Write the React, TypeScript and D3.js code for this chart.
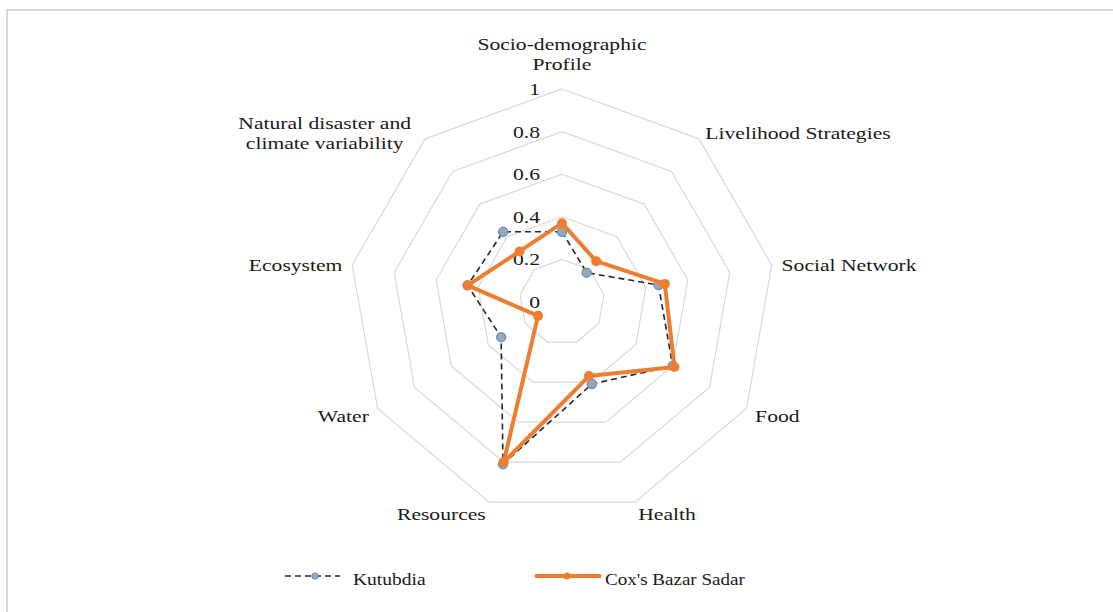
import * as d3 from 'd3';

const categories = [
  ['Socio-demographic', 'Profile'],
  ['Livelihood Strategies'],
  ['Social Network'],
  ['Food'],
  ['Health'],
  ['Resources'],
  ['Water'],
  ['Ecosystem'],
  ['Natural disaster and', 'climate variability'],
];
const kutubdia = [0.33, 0.18, 0.46, 0.6, 0.41, 0.81, 0.33, 0.45, 0.43];
const coxsBazar = [0.37, 0.25, 0.49, 0.61, 0.37, 0.8, 0.13, 0.45, 0.31];
const ticks = [0, 0.2, 0.4, 0.6, 0.8, 1];
const ticklabels = ['0', '0.2', '0.4', '0.6', '0.8', '1'];

const W = 1113;
const H = 612;
const cx = 562;
const cy = 302;
const R = 213;
const FONT = '"Liberation Serif", "Times New Roman", serif';
const SX = 1.35; // text in the picture is horizontally stretched

const App = () => {
  const r = d3.scaleLinear().domain([0, 1]).range([0, R]);
  const n = categories.length;
  const angle = (i: number) => (i * 2 * Math.PI) / n;

  const radar = d3
    .lineRadial<number>()
    .angle((_, i) => angle(i))
    .radius((d) => r(d))
    .curve(d3.curveLinearClosed);

  const rings = ticks.filter((t) => t > 0);

  // label positions from the axis angle
  const labels = categories.map((lines, i) => {
    const a = angle(i);
    const s = Math.sin(a);
    const c = Math.cos(a);
    const x = cx + (R + 10) * s;
    const y = cy - (R + 10) * c;
    const anchor = Math.abs(s) < 0.01 ? 'middle' : s > 0 ? 'start' : 'end';
    const lh = 20;
    const blockH = lines.length * lh;
    let top = y + 3 - blockH / 2;
    if (Math.abs(s) < 0.01 && c > 0) top = y - 4 - blockH;
    return { lines, x, top, anchor, lh };
  });

  return (
    <svg
      width={W}
      height={H}
      style={{ position: 'absolute', left: 0, top: 0, display: 'block', background: '#fff' }}
    >
      <rect x={7} y={10} width={1110} height={620} fill="#fff" stroke="#d9d9d9" strokeWidth={2} />

      <g transform={`translate(${cx},${cy})`}>
        {rings.map((t) => (
          <path
            key={t}
            d={radar(categories.map(() => t)) || ''}
            fill="none"
            stroke="#d9d9d9"
            strokeWidth={1.2}
          />
        ))}
      </g>

      {ticks.map((t, i) => (
        <text
          key={t}
          transform={`translate(${cx - 22},${cy - r(t) + 6}) scale(${SX},1)`}
          textAnchor="end"
          fontFamily={FONT}
          fontSize={16}
          fill="#1a1a1a"
        >
          {ticklabels[i]}
        </text>
      ))}

      {labels.map((l, i) => (
        <g key={i}>
          {l.lines.map((line, j) => (
            <text
              key={j}
              transform={`translate(${l.anchor === 'end' && l.lines.length > 1 ? l.x - 94 : l.x},${l.top + (j + 1) * l.lh - 5}) scale(${SX},1)`}
              textAnchor={l.lines.length > 1 ? 'middle' : l.anchor}
              fontFamily={FONT}
              fontSize={16}
              fill="#1a1a1a"
            >
              {line}
            </text>
          ))}
        </g>
      ))}

      <g transform={`translate(${cx},${cy})`}>
        <path
          d={radar(kutubdia) || ''}
          fill="none"
          stroke="#262626"
          strokeWidth={1.6}
          strokeDasharray="6,4"
        />
        {kutubdia.map((v, i) => (
          <circle
            key={i}
            cx={r(v) * Math.sin(angle(i))}
            cy={-r(v) * Math.cos(angle(i))}
            r={4.5}
            fill="#a5a5a5"
            stroke="#5b9bd5"
            strokeWidth={1.5}
          />
        ))}
        <path d={radar(coxsBazar) || ''} fill="none" stroke="#ed7d31" strokeWidth={4} strokeLinejoin="round" />
        {coxsBazar.map((v, i) => (
          <circle
            key={i}
            cx={r(v) * Math.sin(angle(i))}
            cy={-r(v) * Math.cos(angle(i))}
            r={5}
            fill="#ed7d31"
          />
        ))}
      </g>

      {/* legend */}
      <g>
        <line x1={285} x2={340} y1={576} y2={576} stroke="#262626" strokeWidth={1.6} strokeDasharray="6,4" />
        <circle cx={315} cy={576} r={3} fill="#a5a5a5" stroke="#5b9bd5" strokeWidth={1.2} />
        <text transform={`translate(353,585) scale(1.22,1)`} fontFamily={FONT} fontSize={16} fill="#1a1a1a">
          Kutubdia
        </text>
        <line x1={535} x2={601} y1={576} y2={576} stroke="#ed7d31" strokeWidth={4} />
        <circle cx={567} cy={576} r={3.5} fill="#ed7d31" />
        <text transform={`translate(605,585) scale(1.19,1)`} fontFamily={FONT} fontSize={16} fill="#1a1a1a">
          Cox's Bazar Sadar
        </text>
      </g>
    </svg>
  );
};

export default App;
